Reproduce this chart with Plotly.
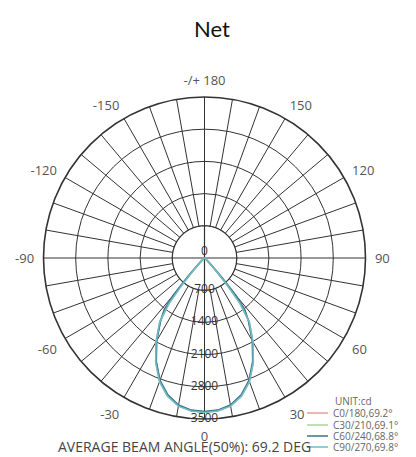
import plotly.graph_objects as go

# ---------------- data ----------------
gamma = [0, 5, 10, 15, 20, 25, 30, 35, 38, 40, 42, 45, 50, 60, 70, 80, 90]
c0 = [3350, 3330, 3260, 3100, 2850, 2500, 2100, 1690, 1350, 900, 420, 120, 40, 15, 5, 0, 0]
c30 = [3345, 3325, 3255, 3090, 2840, 2490, 2090, 1680, 1300, 820, 380, 110, 35, 12, 4, 0, 0]
c60 = [3340, 3320, 3245, 3080, 2830, 2480, 2080, 1660, 1420, 1050, 560, 170, 50, 15, 5, 0, 0]
c90 = [3360, 3340, 3270, 3110, 2860, 2510, 2110, 1700, 1250, 750, 330, 100, 30, 10, 4, 0, 0]
plane_names = ["C0/180,69.2°", "C30/210,69.1°", "C60/240,68.8°", "C90/270,69.8°"]
plane_colors = ["#e89a9a", "#a8d49a", "#3f7390", "#6fbcc2"]

ring_vals = [0, 700, 1400, 2100, 2800, 3500]
ring_text = ["0", "700", "1400", "2100", "2800", "3500"]
ang_tickvals = list(range(0, 360, 10))
ang_labels = {0: "0", 30: "30", 60: "60", 90: "90", 120: "120", 150: "150",
              180: "-/+ 180", 210: "-150", 240: "-120", 270: "-90", 300: "-60", 330: "-30"}
ang_ticktext = [ang_labels.get(v, "") for v in ang_tickvals]
unit_text = "UNIT:cd"
beam_text = "AVERAGE BEAM ANGLE(50%): 69.2 DEG"
title_text = "Net"

W, H = 416, 457
OFF = 8  # page body margin
cx, cy, R = 204.5 - OFF, 258 - OFF, 161
GRID = "#333333"


def px(x):
    return (x - OFF) / W


def py(y):
    return 1 - (y - OFF) / H


fig = go.Figure()

# white inner disc (no spokes inside the first ring) + cross
disc_theta = list(range(0, 361, 2))
fig.add_trace(go.Scatterpolar(r=[ring_vals[1]] * len(disc_theta), theta=disc_theta,
                              mode="lines", fill="toself", fillcolor="white",
                              line=dict(color=GRID, width=1.2), hoverinfo="skip", showlegend=False))
fig.add_trace(go.Scatterpolar(r=[ring_vals[1], 0, ring_vals[1]], theta=[0, 0, 180], mode="lines",
                              line=dict(color=GRID, width=1.2), hoverinfo="skip", showlegend=False))
fig.add_trace(go.Scatterpolar(r=[ring_vals[1], 0, ring_vals[1]], theta=[90, 90, 270], mode="lines",
                              line=dict(color=GRID, width=1.2), hoverinfo="skip", showlegend=False))

# ring labels
fig.add_trace(go.Scatterpolar(r=ring_vals, theta=[0] * len(ring_vals), mode="text",
                              text=ring_text, textposition=["top center"] + ["middle center"] * 5,
                              textfont=dict(family="Open Sans", size=12, color="#333333"),
                              hoverinfo="skip", showlegend=False))

# curves
for vals, name, col in zip([c0, c30, c60, c90], plane_names, plane_colors):
    th = [-g for g in gamma[::-1]] + gamma[1:]
    rr = vals[::-1] + vals[1:]
    fig.add_trace(go.Scatterpolar(r=rr, theta=th, mode="lines", name=name,
                                  line=dict(color=col, width=1.6), showlegend=False))

fig.update_layout(
    width=W, height=H, margin=dict(l=0, r=0, t=0, b=0),
    paper_bgcolor="white",
    title=dict(text=title_text, x=px(212), xanchor="center", y=py(29), yanchor="middle",
               yref="container", font=dict(family="Lato", size=22, color="#111111")),
    polar=dict(
        domain=dict(x=[(cx - R) / W, (cx + R) / W], y=[1 - (cy + R) / H, 1 - (cy - R) / H]),
        bgcolor="white",
        angularaxis=dict(rotation=270, direction="counterclockwise",
                         tickmode="array", tickvals=ang_tickvals, ticktext=ang_ticktext,
                         showgrid=True, gridcolor=GRID, gridwidth=1.2,
                         showline=True, linecolor=GRID, linewidth=1.6,
                         ticks="outside", ticklen=6, tickcolor="rgba(0,0,0,0)",
                         tickfont=dict(family="Open Sans", size=13, color="#555555")),
        radialaxis=dict(range=[0, 3500], tickmode="array", tickvals=ring_vals[1:],
                        showgrid=True, gridcolor=GRID, gridwidth=1.2,
                        showline=False, showticklabels=False, ticks=""),
    ),
)

# annotations: unit, legend, beam angle
ann = [dict(text=unit_text, x=px(333), y=py(401), xanchor="left", yanchor="middle",
            font=dict(family="Open Sans", size=10, color="#666666"))]
rows_y = [413, 425, 436, 447]
shapes = []
for name, col, yy in zip(plane_names, plane_colors, rows_y):
    ann.append(dict(text=name, x=px(331), y=py(yy), xanchor="left", yanchor="middle",
                    font=dict(family="Open Sans", size=10, color="#666666")))
    shapes.append(dict(type="line", xref="paper", yref="paper", x0=px(307), x1=px(328),
                       y0=py(yy), y1=py(yy), line=dict(color=col, width=1.5)))
ann.append(dict(text=beam_text, x=px(184.5), y=py(446), xanchor="center", yanchor="middle",
                font=dict(family="Open Sans", size=14, color="#444444")))
for a in ann:
    a.update(xref="paper", yref="paper", showarrow=False)
fig.update_layout(annotations=ann, shapes=shapes)

fig.write_html("out.html")
